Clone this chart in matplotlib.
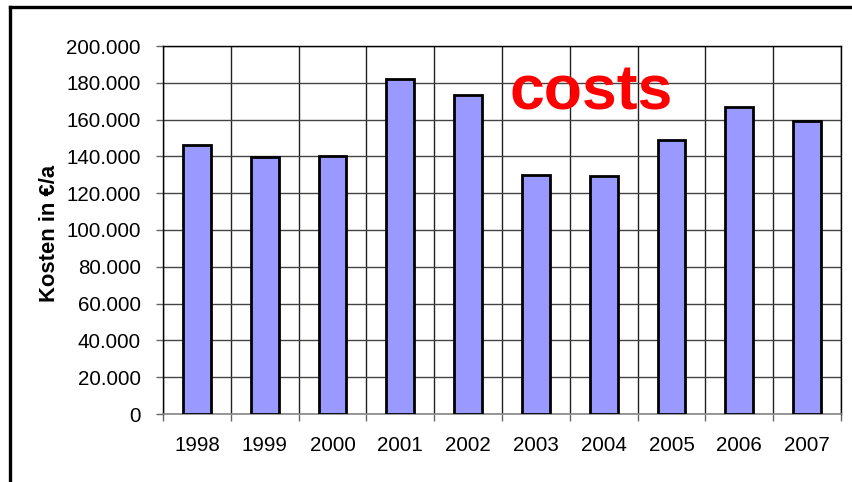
import matplotlib
matplotlib.use("Agg")
import matplotlib.pyplot as plt
from matplotlib.lines import Line2D
from matplotlib.ticker import FixedLocator, FuncFormatter
import numpy as np

years = ["1998", "1999", "2000", "2001", "2002", "2003", "2004", "2005", "2006", "2007"]
costs = [146000, 139500, 140200, 182100, 173200, 129900, 129300, 148900, 166700, 159100]
y_ticks = [0, 20000, 40000, 60000, 80000, 100000, 120000, 140000, 160000, 180000, 200000]

plt.rcParams["font.family"] = ["Liberation Sans", "DejaVu Sans"]

W, H = 853, 482
fig = plt.figure(figsize=(W / 100, H / 100), dpi=100)
ax = fig.add_axes([163 / W, 1 - 414 / H, (841 - 163) / W, (414 - 46) / H])

x = np.arange(len(years))
ax.bar(x, costs, width=0.41, color="#9999FF", edgecolor="black", linewidth=2, zorder=3)

ax.set_xlim(-0.5, len(years) - 0.5)
ax.set_ylim(0, 200000)

# horizontal grid and category separators
ax.set_yticks(y_ticks)
ax.yaxis.set_major_formatter(FuncFormatter(lambda v, p: f"{int(v):,}".replace(",", ".")))
ax.set_xticks(x)
ax.set_xticklabels(years)
ax.xaxis.set_minor_locator(FixedLocator(np.arange(-0.5, len(years), 1.0)))
ax.grid(axis="y", which="major", color="#444444", linewidth=1, zorder=0)
ax.grid(axis="x", which="minor", color="#222222", linewidth=1, zorder=0)

ax.tick_params(axis="y", which="major", direction="out", length=5, width=1,
               color="#666666", labelsize=14.8, pad=11)
ax.tick_params(axis="x", which="major", length=0, labelsize=14.8, pad=16)
ax.tick_params(axis="x", which="minor", direction="out", length=5, width=1, color="#666666")

for side in ["top", "right", "left"]:
    ax.spines[side].set_color("black")
    ax.spines[side].set_linewidth(1)
ax.spines["bottom"].set_color("#888888")
ax.spines["bottom"].set_linewidth(1.2)

fig.text(50 / W, 1 - 233 / H, "Kosten in €/a", rotation=90, fontsize=15.8,
         fontweight="bold", ha="center", va="center")

fig.text(510 / W, 1 - 109 / H, "costs", color="#FF0000", fontsize=45,
         fontweight="bold", ha="left", va="baseline")

# outer frame (left and top edges)
fig.add_artist(Line2D([10 / W, 10 / W], [0, 1 - 7 / H], transform=fig.transFigure,
                      color="black", linewidth=2.4, solid_capstyle="projecting"))
fig.add_artist(Line2D([10 / W, 1], [1 - 7 / H, 1 - 7 / H], transform=fig.transFigure,
                      color="black", linewidth=2.4, solid_capstyle="projecting"))

fig.savefig("out.png", dpi=100)
